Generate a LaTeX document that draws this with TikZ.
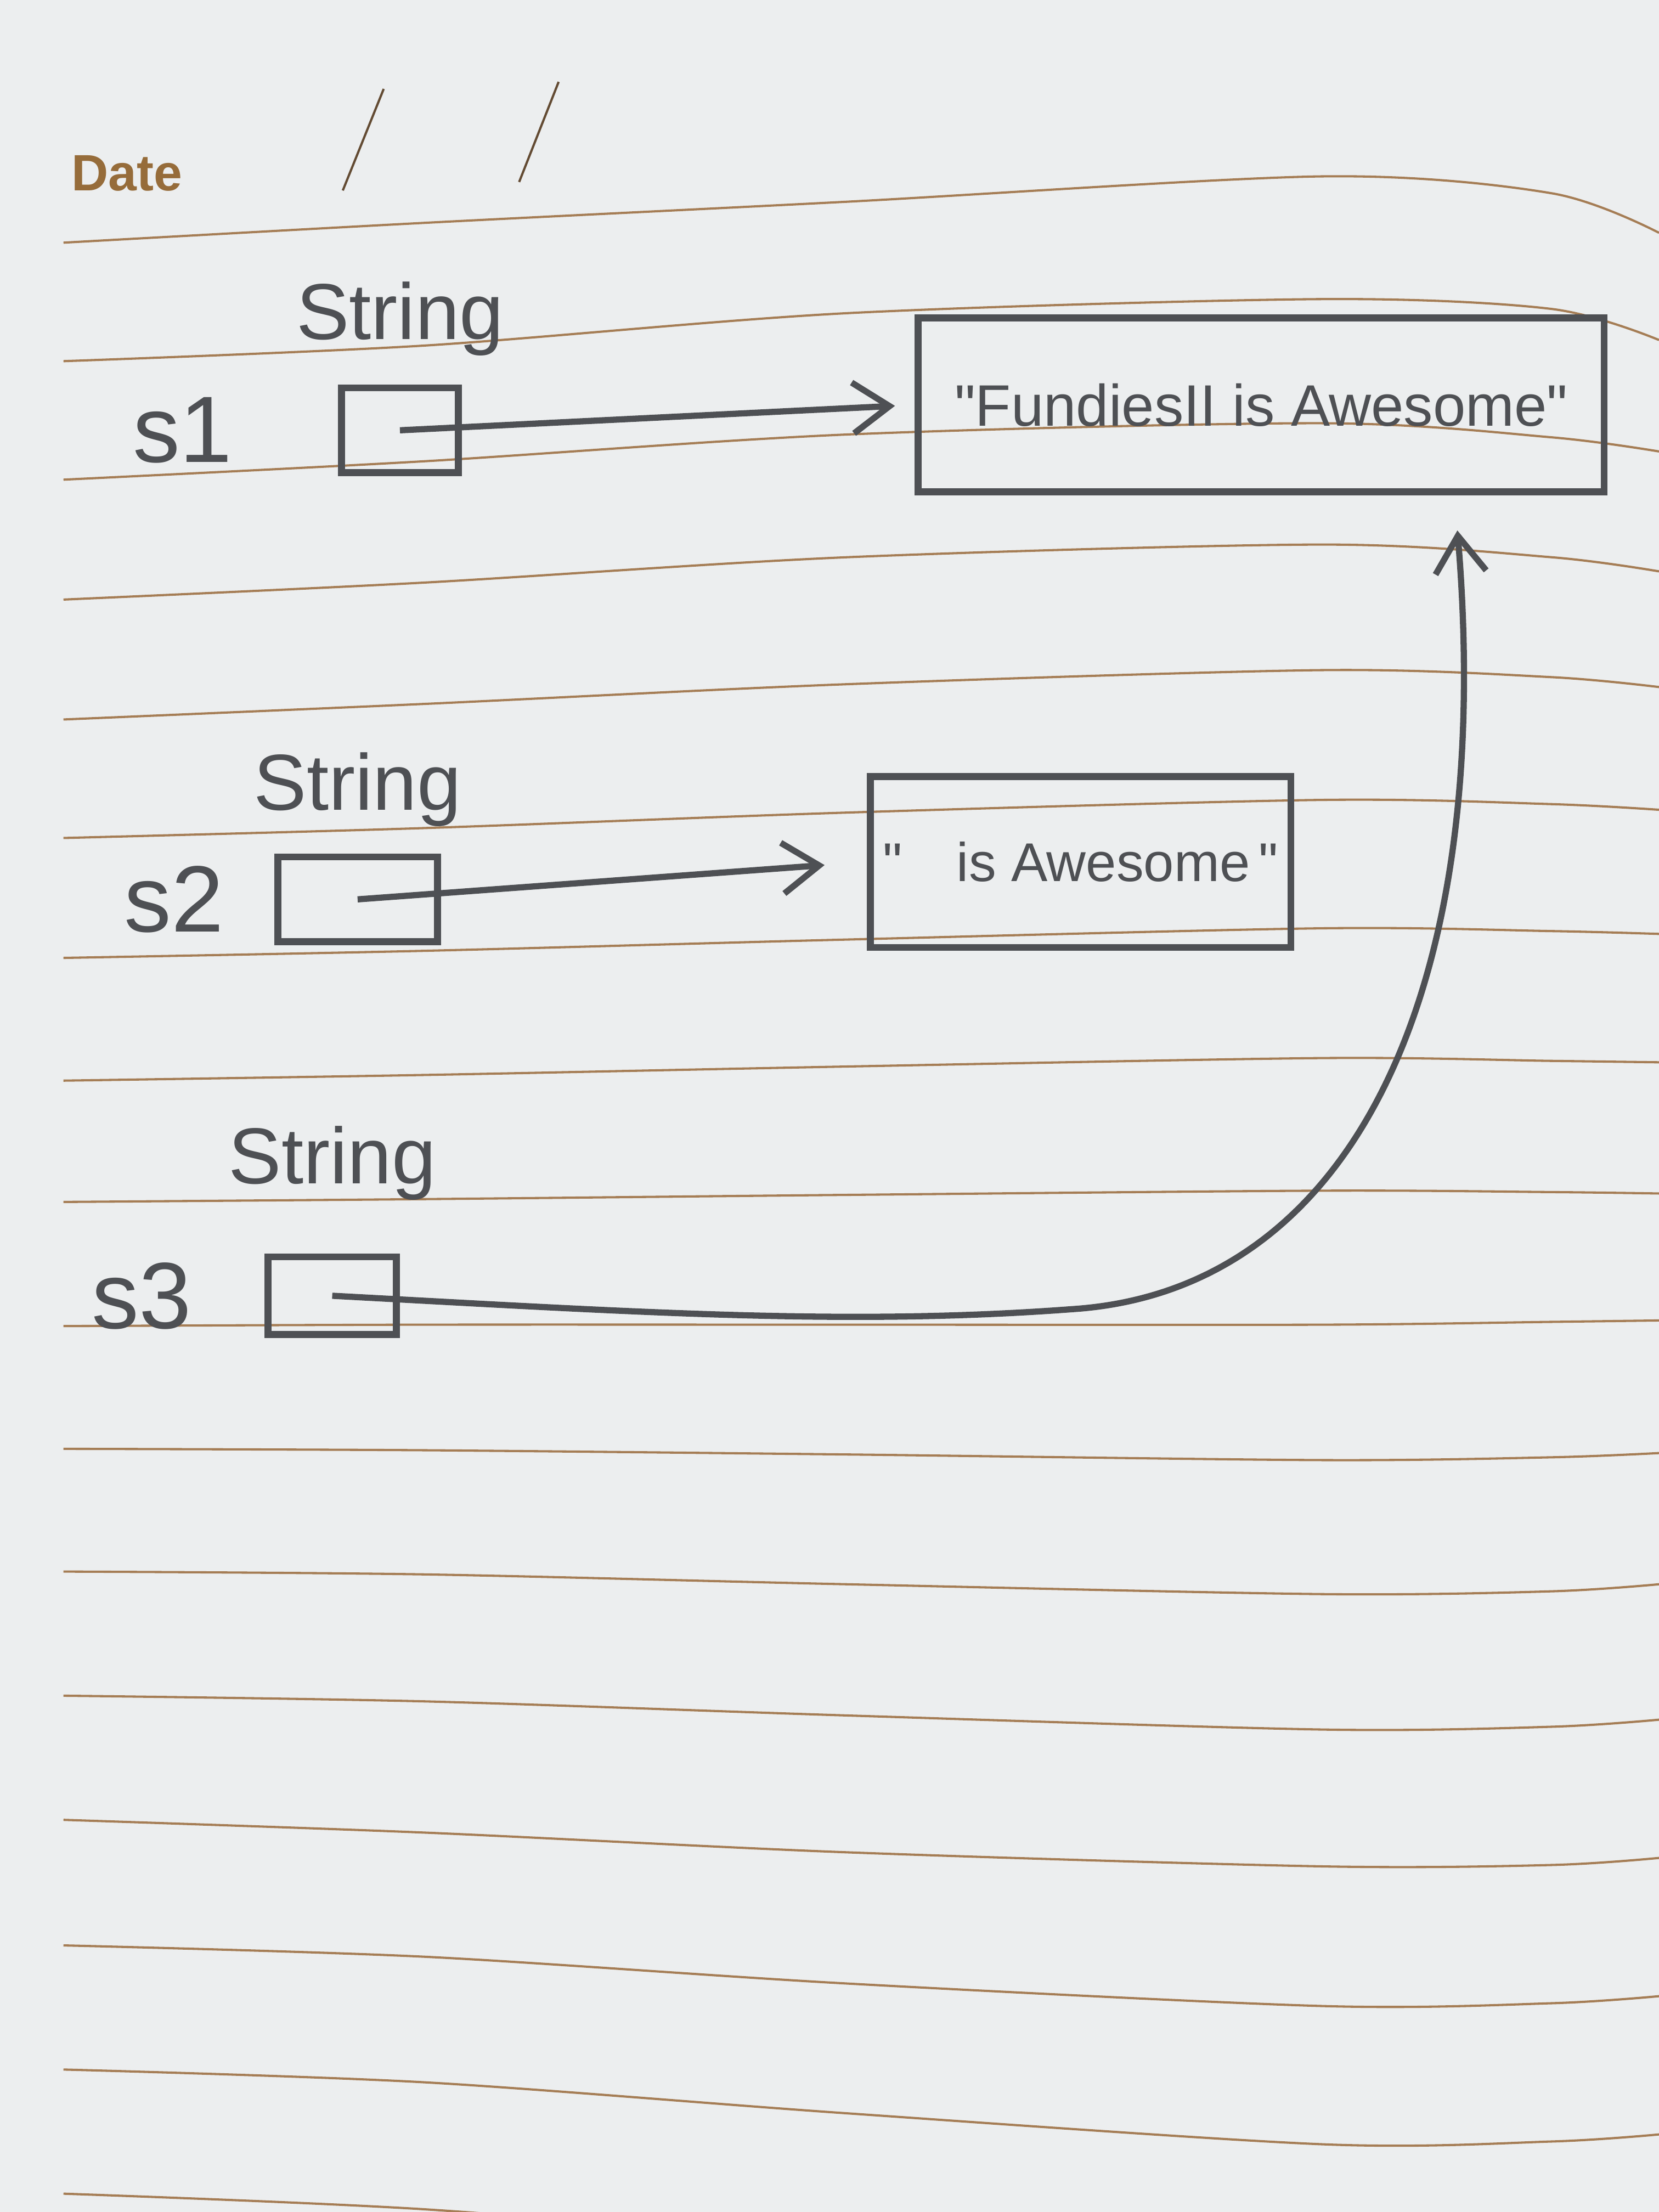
\documentclass[tikz,border=0pt]{standalone}
\usepackage{fontspec}
\setmainfont{Liberation Sans}
\usetikzlibrary{positioning,arrows.meta}

\definecolor{paper}{RGB}{236,238,239}
\definecolor{rulebrown}{RGB}{165,125,85}
\definecolor{pencil}{RGB}{78,80,84}
\definecolor{datebrown}{RGB}{150,108,58}

\tikzset{
  varbox/.style={rectangle, draw=pencil, line width=1.4pt, minimum width=0.91cm, minimum height=0.6cm},
  strbox/.style={rectangle, draw=pencil, line width=1.4pt, inner sep=0pt, text=pencil, font=\fontsize{11.8}{14}\selectfont},
  typelbl/.style={text=pencil, inner sep=0pt, font=\fontsize{16}{18}\selectfont},
  varlbl/.style={text=pencil, inner sep=0pt, font=\fontsize{19}{22}\selectfont},
  ruled/.style={draw=rulebrown, line width=0.45pt},
  pointer/.style={->, draw=pencil, line width=1.25pt},
}

\begin{document}
\begin{tikzpicture}[x=0.01cm, y=-0.01cm, node distance=1.5cm, >={Straight Barb[length=0.26cm,width=0.36cm]}]
\useasboundingbox (0,0) rectangle (1176,1568);
\fill[paper] (0,0) rectangle (1176,1568);
% ruled lines of the page
\foreach \a/\b/\c/\d/\e/\f in {172/158/143/125/137/165, 256/245/222/212/219/241,
    340/327/308/300/310/320, 425/413/395/386/395/405, 510/499/485/475/480/487,
    594/587/576/567/570/574, 679/674/666/658/660/662, 766/762/756/750/752/753,
    852/850/847/844/845/846, 940/939/939/939/937/936, 1027/1028/1031/1035/1033/1030,
    1114/1116/1123/1130/1128/1123, 1202/1206/1216/1226/1224/1219,
    1290/1299/1313/1323/1322/1317, 1379/1387/1406/1422/1420/1415,
    1467/1476/1498/1520/1518/1513, 1555/1566/1590/1615/1612/1606}
  \draw[ruled] plot[smooth] coordinates {(45,\a) (300,\b) (600,\c) (938,\d) (1100,\e) (1176,\f)};
% date header
\node[font=\bfseries\fontsize{10.3}{12}\selectfont, text=datebrown, inner sep=0pt, anchor=base west] (date) at (50,135) {Date};
\draw[draw=rulebrown!60!black, line width=0.45pt] (272,63) -- (243,135);
\draw[draw=rulebrown!60!black, line width=0.45pt] (396,58) -- (368,129);

% variables
\node[varbox, minimum width=0.83cm] (var1) at (283.5,305) {};
\node[varlbl, left of=var1, node distance=1.54cm] (s1) {s1};
\node[typelbl, above of=var1, node distance=0.79cm] (t1) {String};

\node[varbox, minimum width=1.13cm] (var2) at (253.5,637.5) {};
\node[varlbl, left of=var2, node distance=1.3cm] (s2) {s2};
\node[typelbl, above of=var2, node distance=0.78cm] (t2) {String};

\node[varbox, minimum height=0.55cm] (var3) at (235.5,918.5) {};
\node[varlbl, left of=var3, node distance=1.35cm] (s3) {s3};
\node[typelbl, above of=var3, node distance=0.94cm] (t3) {String};

% string objects
\node[strbox, minimum width=4.86cm, minimum height=1.23cm] (str1) at (894,287) {\textquotedbl FundiesII is Awesome\textquotedbl};
\node[strbox, minimum width=2.98cm, minimum height=1.21cm, font=\fontsize{11}{13}\selectfont] (str2) at (766,611) {\textquotedbl\hspace{1em}is Awesome\,\textquotedbl};
\coordinate (tip3) at ([xshift=1.39cm,yshift=-0.25cm]str1.south);

\draw[pointer, shorten >=0.14cm] (var1.center) -- (str1.west);
\draw[pointer, shorten >=0.3cm] (var2.center) -- (str2.west);
\draw[pointer] (var3.center) .. controls (450,930) and (600,940) .. (760,928)
  .. controls (960,915) and (1060,700) .. (tip3);
\end{tikzpicture}
\end{document}
